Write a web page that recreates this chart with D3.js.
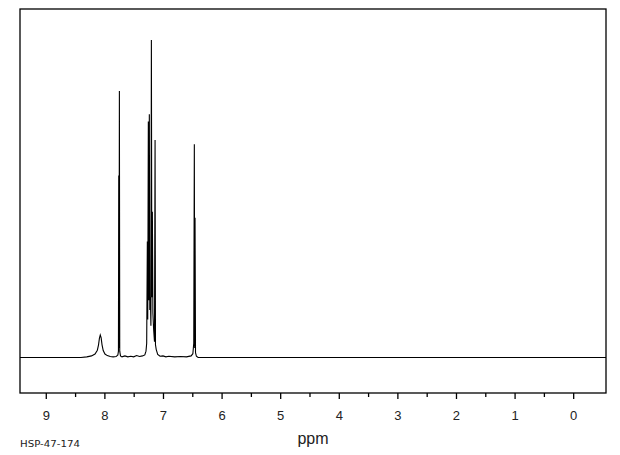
<!DOCTYPE html>
<html>
<head>
<meta charset="utf-8">
<script src="https://cdn.jsdelivr.net/npm/d3@7"></script>
<style>
  html, body { margin: 0; padding: 0; background: #fff; }
  svg { display: block; }
</style>
</head>
<body>
<svg id="chart" width="620" height="455"></svg>
<script>
// ---- data ----
const ppmValues = [
  9.44, 8.40, 8.30, 8.22, 8.16, 8.12, 8.10, 8.085, 8.07, 8.055, 8.04, 8.02, 7.99, 7.95, 7.90, 7.85,
  7.80, 7.77, 7.76, 7.755, 7.75, 7.744, 7.738, 7.725, 7.70, 7.65, 7.60, 7.55, 7.50, 7.45, 7.40, 7.35,
  7.31, 7.29, 7.278, 7.267, 7.260, 7.250, 7.244, 7.233, 7.225, 7.215, 7.206, 7.198, 7.190, 7.181,
  7.172, 7.160, 7.145, 7.135, 7.128, 7.115, 7.09, 7.05, 7.00, 6.95, 6.90, 6.80, 6.70, 6.60, 6.52,
  6.49, 6.475, 6.465, 6.459, 6.453, 6.445, 6.43, 6.40, -0.56
];
const intensities = [
  0, 0, 0.2, 0.5, 1.1, 2.3, 4.0, 6.0, 7.1, 6.2, 4.0, 2.2, 1.1, 0.6, 0.3, 0.2,
  0.3, 0.8, 2.0, 57.3, 3.0, 83.9, 2.0, 0.5, 0.2, 0.5, 0.2, 0.4, 0.2, 0.6, 0.3, 0.5,
  0.8, 2.0, 4.5, 36.5, 12, 74.3, 18, 76.6, 15, 19, 10, 100, 19, 45.9,
  14, 9, 5, 68.5, 4, 2.5, 1.0, 0.4, 0.5, 0.2, 0.4, 0.2, 0.3, 0.2, 0.5,
  1.2, 4.5, 67.2, 3, 44.0, 1.5, 0.4, 0, 0
];
const majorTicks = [9, 8, 7, 6, 5, 4, 3, 2, 1, 0];
const minorTicks = [9.5, 8.5, 7.5, 6.5, 5.5, 4.5, 3.5, 2.5, 1.5, 0.5];
const xTitle = "ppm";
const sampleId = "HSP-47-174";

// ---- layout ----
const frame = { left: 20, right: 606, top: 9, bottom: 393 };
const svg = d3.select("#chart");

const x = d3.scaleLinear().domain([9.44, -0.56]).range([frame.left, frame.right]);
const y = d3.scaleLinear().domain([0, 100]).range([357.5, 40]);

const points = ppmValues.map((p, i) => [p, intensities[i]]);

// frame
svg.append("rect")
  .attr("x", frame.left).attr("y", frame.top)
  .attr("width", frame.right - frame.left)
  .attr("height", frame.bottom - frame.top)
  .attr("fill", "none").attr("stroke", "#000").attr("stroke-width", 1.3);

// spectrum
const line = d3.line().x(d => x(d[0])).y(d => y(d[1]));
svg.append("path")
  .datum(points)
  .attr("d", line)
  .attr("fill", "none")
  .attr("stroke", "#000")
  .attr("stroke-width", 1.1);

// axis
const axisG = svg.append("g").attr("transform", `translate(0,${frame.bottom})`);
axisG.call(d3.axisBottom(x).tickValues(majorTicks).tickSize(6).tickPadding(12).tickFormat(d3.format("d")))
  .call(g => g.select(".domain").remove())
  .call(g => g.selectAll(".tick line").attr("stroke", "#000").attr("stroke-width", 1.3))
  .call(g => g.selectAll(".tick text")
    .attr("font-family", "Liberation Sans, Arial, sans-serif")
    .attr("font-size", 13).attr("fill", "#222"));
const minorG = svg.append("g").attr("transform", `translate(0,${frame.bottom})`);
minorG.call(d3.axisBottom(x).tickValues(minorTicks.filter(v => v <= 9.44)).tickSize(4).tickFormat(""))
  .call(g => g.select(".domain").remove())
  .call(g => g.selectAll(".tick line").attr("stroke", "#000").attr("stroke-width", 1.3));

// titles
svg.append("text")
  .attr("x", (frame.left + frame.right) / 2).attr("y", 444)
  .attr("text-anchor", "middle")
  .attr("font-family", "Liberation Sans, Arial, sans-serif")
  .attr("font-size", 16).attr("fill", "#222")
  .text(xTitle);

svg.append("text")
  .attr("x", 20).attr("y", 447)
  .attr("font-family", "DejaVu Sans, sans-serif")
  .attr("font-size", 8).attr("fill", "#222")
  .attr("textLength", 60).attr("lengthAdjust", "spacingAndGlyphs")
  .text(sampleId);
</script>
</body>
</html>
